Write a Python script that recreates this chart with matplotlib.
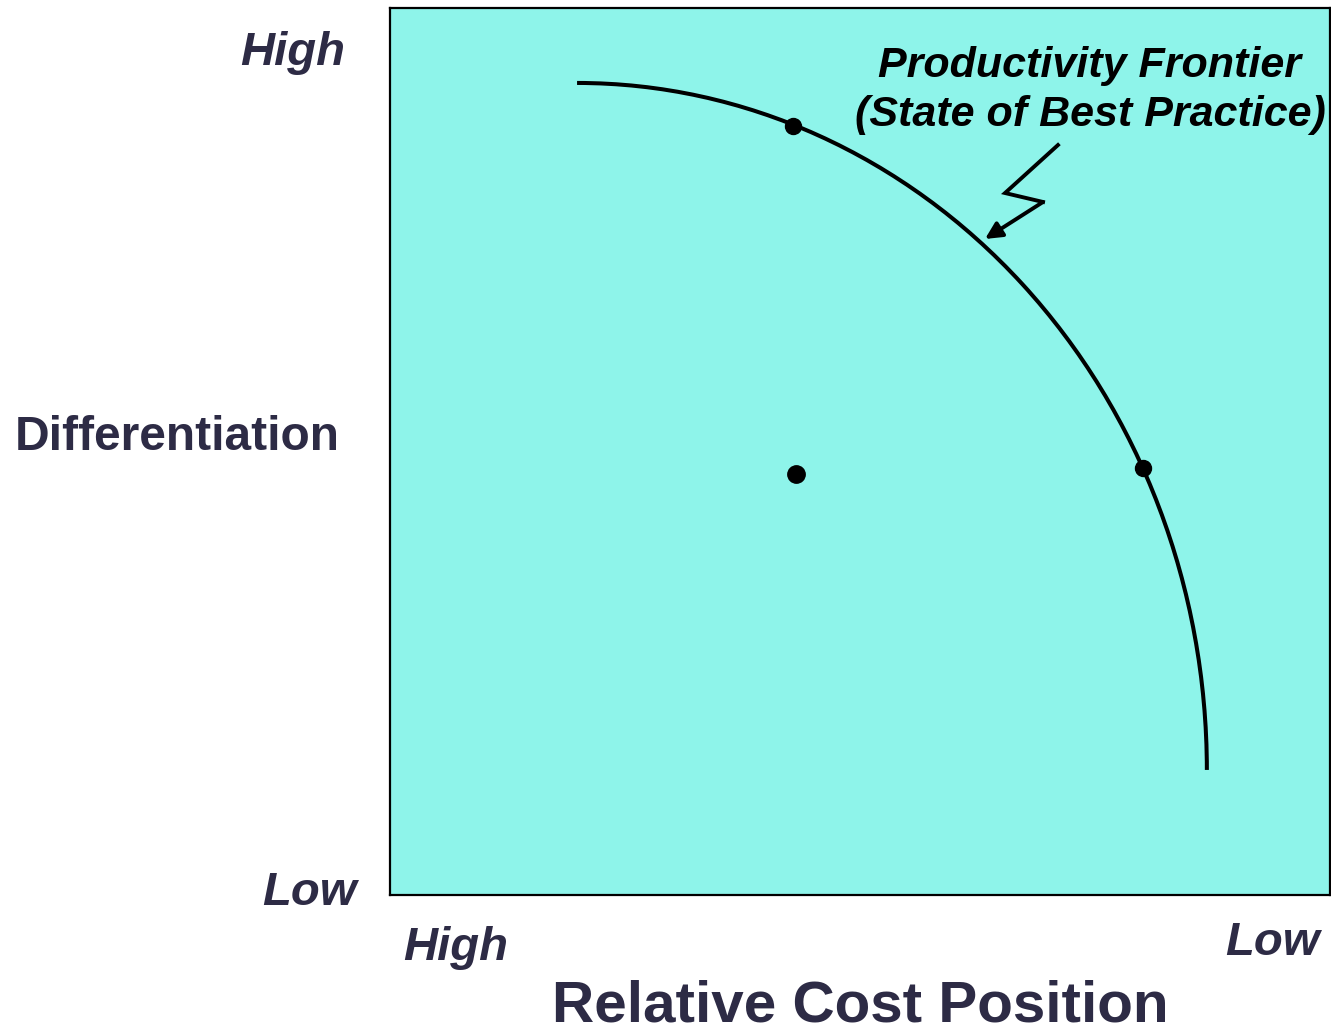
import matplotlib.pyplot as plt
from matplotlib.patches import Arc

# frontier drawn as a quarter ellipse (centre, radii) in axis units 0-100
frontier_center = (19.9, 14.1)
frontier_radii = (67.0, 77.45)

# company positions
firm_x = [42.9, 80.1, 43.2]
firm_y = [86.7, 48.1, 47.5]

# lightning-bolt pointer from the caption to the curve
bolt_x = [71.06, 65.43, 69.47, 63.30]
bolt_y = [84.55, 79.14, 78.13, 73.96]

y_levels = ['High', 'Low']
x_levels = ['High', 'Low']
x_title = 'Relative Cost Position'
y_title = 'Differentiation'
caption = ['Productivity Frontier', '(State of Best Practice)']

W, H = 1331, 1033
label_color = '#2d2b45'
plt.rcParams['font.family'] = ['Liberation Sans', 'DejaVu Sans']

fig = plt.figure(figsize=(W / 100, H / 100), dpi=100)
ax = fig.add_axes([390 / W, 1 - 895 / H, 940 / W, 887 / H])
ax.set_facecolor('#8ef4ea')
ax.set_xlim(0, 100)
ax.set_ylim(0, 100)
ax.set_xticks([])
ax.set_yticks([])
for s in ax.spines.values():
    s.set_linewidth(1.6)
    s.set_color('black')

ax.add_patch(Arc(frontier_center, 2 * frontier_radii[0], 2 * frontier_radii[1],
                 theta1=0, theta2=90, lw=2.9, color='black'))
ax.plot(firm_x[:2], firm_y[:2], 'o', ms=11.5, color='black')
ax.plot(firm_x[2:], firm_y[2:], 'o', ms=12.5, color='black')

ax.plot(bolt_x[:-1], bolt_y[:-1], color='black', lw=2.8, solid_joinstyle='miter')
ax.annotate('', xy=(bolt_x[-1], bolt_y[-1]), xytext=(bolt_x[-2], bolt_y[-2]),
            arrowprops=dict(arrowstyle='-|>', color='black', lw=2.8,
                            mutation_scale=25, shrinkA=0, shrinkB=0))

def ftext(px, py, s, **kw):
    fig.text(px / W, 1 - py / H, s, va='baseline', **kw)

ftext(1090, 77, caption[0], ha='center', fontsize=31, weight='bold', style='italic')
ftext(1090, 126, caption[1], ha='center', fontsize=31, weight='bold', style='italic')

ftext(345, 65, y_levels[0], ha='right', fontsize=34, weight='bold', style='italic', color=label_color)
ftext(357, 905, y_levels[1], ha='right', fontsize=34, weight='bold', style='italic', color=label_color)
ftext(15, 450, y_title, ha='left', fontsize=34.5, weight='bold', color=label_color)

ftext(403, 960, x_levels[0], ha='left', fontsize=34, weight='bold', style='italic', color=label_color)
ftext(1320, 955, x_levels[1], ha='right', fontsize=34, weight='bold', style='italic', color=label_color)
ftext(860, 1022, x_title, ha='center', fontsize=42, weight='bold', color=label_color)

fig.savefig('out.png', dpi=100)
